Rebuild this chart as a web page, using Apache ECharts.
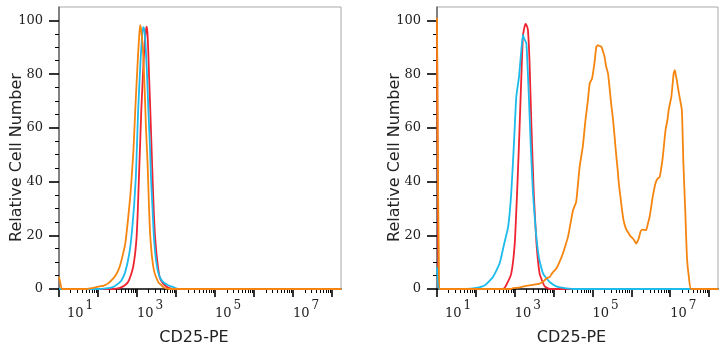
<!DOCTYPE html>
<html>
<head>
<meta charset="utf-8">
<script src="https://cdn.jsdelivr.net/npm/echarts@6/dist/echarts.min.js"></script>
<style>
  html, body { margin: 0; padding: 0; background: #fff; }
  #chart { width: 727px; height: 350px; }
</style>
</head>
<body>
<div id="chart"></div>
<script>
// X values are log10(CD25-PE intensity); Y values are relative cell number.
const decadeTicks = [1, 2, 3, 4, 5, 6, 7, 8];
const decadeLabels = [1, 3, 5, 7];
const countTicks = [0, 20, 40, 60, 80, 100];
const countMinorTicks = [5, 10, 15, 25, 30, 35, 45, 50, 55, 65, 70, 75, 85, 90, 95];
const xRange = [1, 8.23];
const yRange = [0, 105];

// Left panel histograms
const leftRed = [[1,0],[2.40,0],[2.56,0.4],[2.68,1.3],[2.77,2.6],[2.84,5],[2.90,8.2],[2.95,13],[2.99,19.4],[3.02,29],[3.05,41.7],[3.08,54],[3.11,66.6],[3.14,76],[3.17,85],[3.20,92],[3.23,96.5],[3.25,97.7],[3.27,95],[3.29,88],[3.31,79],[3.34,67],[3.37,54],[3.40,41],[3.43,29],[3.46,20],[3.50,13],[3.54,8],[3.58,4.5],[3.64,2.6],[3.71,1.4],[3.80,0.5],[3.92,0],[8.23,0]];
const leftCyan = [[1,0],[2.00,0],[2.20,0.2],[2.38,0.7],[2.50,1.8],[2.60,3.2],[2.69,6],[2.77,10.7],[2.83,16],[2.88,23],[2.93,32],[2.97,41.7],[3.00,54],[3.03,66.6],[3.06,76],[3.09,85],[3.12,92],[3.15,97],[3.17,97.5],[3.20,95],[3.23,88],[3.26,79],[3.29,67],[3.33,54],[3.36,41],[3.40,29],[3.43,20],[3.46,14.4],[3.50,9.5],[3.54,6.3],[3.60,4],[3.67,2.6],[3.80,1.4],[3.93,0.7],[4.05,0],[8.23,0]];
const leftOrange = [[1.00,4.5],[1.03,2.5],[1.08,0],[1.70,0],[1.85,0.3],[2.04,1.0],[2.13,1.2],[2.25,2],[2.38,3.8],[2.47,5.5],[2.56,8.5],[2.64,13],[2.70,17],[2.77,26],[2.83,35],[2.87,43],[2.91,52],[2.95,65],[2.99,77],[3.03,88],[3.06,95],[3.08,98.2],[3.10,97],[3.14,91.5],[3.16,87],[3.20,72.8],[3.23,60],[3.27,47],[3.30,34],[3.33,22],[3.37,14],[3.41,9],[3.45,6],[3.50,4],[3.56,2.2],[3.63,1.4],[3.67,0.7],[3.75,0.2],[3.84,0],[8.23,0]];

// Right panel histograms
const rightRed = [[1.00,99],[1.02,40],[1.05,0],[2.70,0],[2.78,1.4],[2.91,5.7],[3.00,16.9],[3.06,35.6],[3.11,54.2],[3.17,79],[3.21,94],[3.25,97.5],[3.28,98.7],[3.31,98],[3.34,96.4],[3.38,85],[3.43,60.4],[3.49,35.6],[3.56,16.9],[3.64,5.7],[3.72,2.5],[3.77,1],[3.90,0],[8.23,0]];
const rightCyan = [[1.00,8],[1.03,2],[1.06,0],[1.75,0],[2.01,0.4],[2.23,1.4],[2.44,4.5],[2.61,9.5],[2.72,16.3],[2.83,23.1],[2.91,35.6],[2.98,54.2],[3.04,71.6],[3.11,79],[3.17,89],[3.21,94.6],[3.25,93],[3.30,91.5],[3.36,72.8],[3.41,54.2],[3.47,35.6],[3.54,21.9],[3.62,11.9],[3.73,5.7],[3.90,2.6],[4.07,1],[4.25,0.4],[4.50,0],[8.23,0]];
const rightOrange = [[1.00,101],[1.02,50],[1.05,8],[1.08,0],[2.90,0],[2.95,0.3],[3.10,0.5],[3.30,1.2],[3.45,1.5],[3.64,2],[3.75,3],[3.81,3.9],[3.90,4.5],[3.97,6],[4.07,7.6],[4.15,10],[4.24,13.2],[4.30,16],[4.37,19.4],[4.43,24],[4.50,29.3],[4.58,32.4],[4.62,38],[4.67,45.5],[4.75,52.9],[4.82,62.9],[4.88,70],[4.93,76.6],[4.99,78.4],[5.05,84],[5.10,90.2],[5.14,90.8],[5.18,90.5],[5.23,90.2],[5.27,88.5],[5.31,86.5],[5.35,83],[5.40,80.3],[5.44,75],[5.48,69.1],[5.53,63],[5.57,56.7],[5.61,50],[5.65,44.2],[5.68,39],[5.72,34.3],[5.76,29.5],[5.80,25.6],[5.86,22.5],[5.91,21.2],[5.97,19.8],[6.04,18.8],[6.08,18],[6.13,16.9],[6.19,18.8],[6.24,21.5],[6.28,22.1],[6.33,22],[6.38,21.9],[6.42,24],[6.47,26.8],[6.51,30.5],[6.55,34.3],[6.62,39.3],[6.67,41],[6.73,41.7],[6.77,45],[6.81,49.2],[6.88,59.2],[6.93,63],[6.96,66.6],[7.03,71.6],[7.06,76],[7.09,80.3],[7.12,81.5],[7.14,80],[7.17,77.8],[7.20,75],[7.24,71.6],[7.30,66.6],[7.34,46.7],[7.39,28.1],[7.43,11.9],[7.48,4.5],[7.54,0],[8.23,0]];

const COLORS = { red: '#ee2431', cyan: '#1cbbec', orange: '#f5850f' };

// Minor log ticks: 2..9 within every decade
const minorLogTicks = [];
decadeTicks.forEach(function (d) {
  for (let k = 2; k <= 9; k++) {
    const v = d + Math.log10(k);
    if (v <= xRange[1]) minorLogTicks.push(v);
  }
});

const serif = 'DejaVu Serif';
const sans = 'DejaVu Sans';

function xAxesFor(g) {
  return [
    {
      type: 'value', gridIndex: g, position: 'bottom', min: xRange[0], max: xRange[1],
      axisLine: { show: true, onZero: false, lineStyle: { color: '#111', width: 1.5 } },
      axisTick: { show: true, customValues: decadeTicks, length: 8, lineStyle: { color: '#000', width: 1.6 } },
      axisLabel: {
        customValues: decadeLabels, align: 'left', margin: 11,
        formatter: function (v) { return (v === 1 ? '{a|10}' : '{b|10}') + '{s|' + v + '}'; },
        rich: {
          a: { fontFamily: serif, fontSize: 13, color: '#222', padding: [0, 0, 0, 8], verticalAlign: 'bottom' },
          b: { fontFamily: serif, fontSize: 13, color: '#222', verticalAlign: 'bottom' },
          s: { fontFamily: serif, fontSize: 12, color: '#222', padding: [0, 0, 8, 2], verticalAlign: 'bottom' }
        }
      },
      splitLine: { show: false },
      name: 'CD25-PE', nameLocation: 'middle', nameGap: 41, nameMoveOverlap: false,
      nameTextStyle: { fontFamily: sans, fontSize: 16, color: '#222', padding: [0, 12, 0, 0] }
    },
    {
      type: 'value', gridIndex: g, position: 'bottom', min: xRange[0], max: xRange[1],
      axisLine: { show: false },
      axisTick: { show: true, customValues: minorLogTicks, length: 4, lineStyle: { color: '#000', width: 1 } },
      axisLabel: { show: false },
      splitLine: { show: false }
    }
  ];
}

function yAxesFor(g) {
  return [
    {
      type: 'value', gridIndex: g, position: 'left', min: yRange[0], max: yRange[1],
      axisLine: { show: true, onZero: false, lineStyle: { color: '#666', width: 1.5 } },
      axisTick: { show: true, customValues: countTicks, length: 10, lineStyle: { color: '#000', width: 1.6 } },
      axisLabel: { customValues: countTicks, margin: 16, fontFamily: serif, fontSize: 13, color: '#222' },
      splitLine: { show: false },
      name: 'Relative Cell Number', nameLocation: 'middle', nameGap: 34, nameRotate: 90, nameMoveOverlap: false,
      nameTextStyle: { fontFamily: sans, fontSize: 16, color: '#222', padding: [0, 19, 0, 0] }
    },
    {
      type: 'value', gridIndex: g, position: 'left', min: yRange[0], max: yRange[1],
      axisLine: { show: false },
      axisTick: { show: true, customValues: countMinorTicks, length: 4, lineStyle: { color: '#000', width: 1 } },
      axisLabel: { show: false },
      splitLine: { show: false }
    }
  ];
}

function curve(data, color, axisIdx) {
  return {
    type: 'line', data: data, xAxisIndex: axisIdx, yAxisIndex: axisIdx,
    showSymbol: false, symbol: 'none', smooth: 0.15,
    lineStyle: { color: color, width: 1.8 }, silent: true, z: 3
  };
}

const chart = echarts.init(document.getElementById('chart'), null, { renderer: 'canvas' });
chart.setOption({
  animation: false,
  backgroundColor: '#fff',
  grid: [
    { left: 59, top: 7, width: 282, height: 282, show: true, borderColor: '#a8a8a8', borderWidth: 1, outerBoundsMode: 'none' },
    { left: 437, top: 7, width: 281, height: 282, show: true, borderColor: '#a8a8a8', borderWidth: 1, outerBoundsMode: 'none' }
  ],
  xAxis: xAxesFor(0).concat(xAxesFor(1)),
  yAxis: yAxesFor(0).concat(yAxesFor(1)),
  series: [
    curve(leftRed, COLORS.red, 0),
    curve(leftCyan, COLORS.cyan, 0),
    curve(leftOrange, COLORS.orange, 0),
    curve(rightRed, COLORS.red, 2),
    curve(rightCyan, COLORS.cyan, 2),
    curve(rightOrange, COLORS.orange, 2)
  ]
});
</script>
</body>
</html>
